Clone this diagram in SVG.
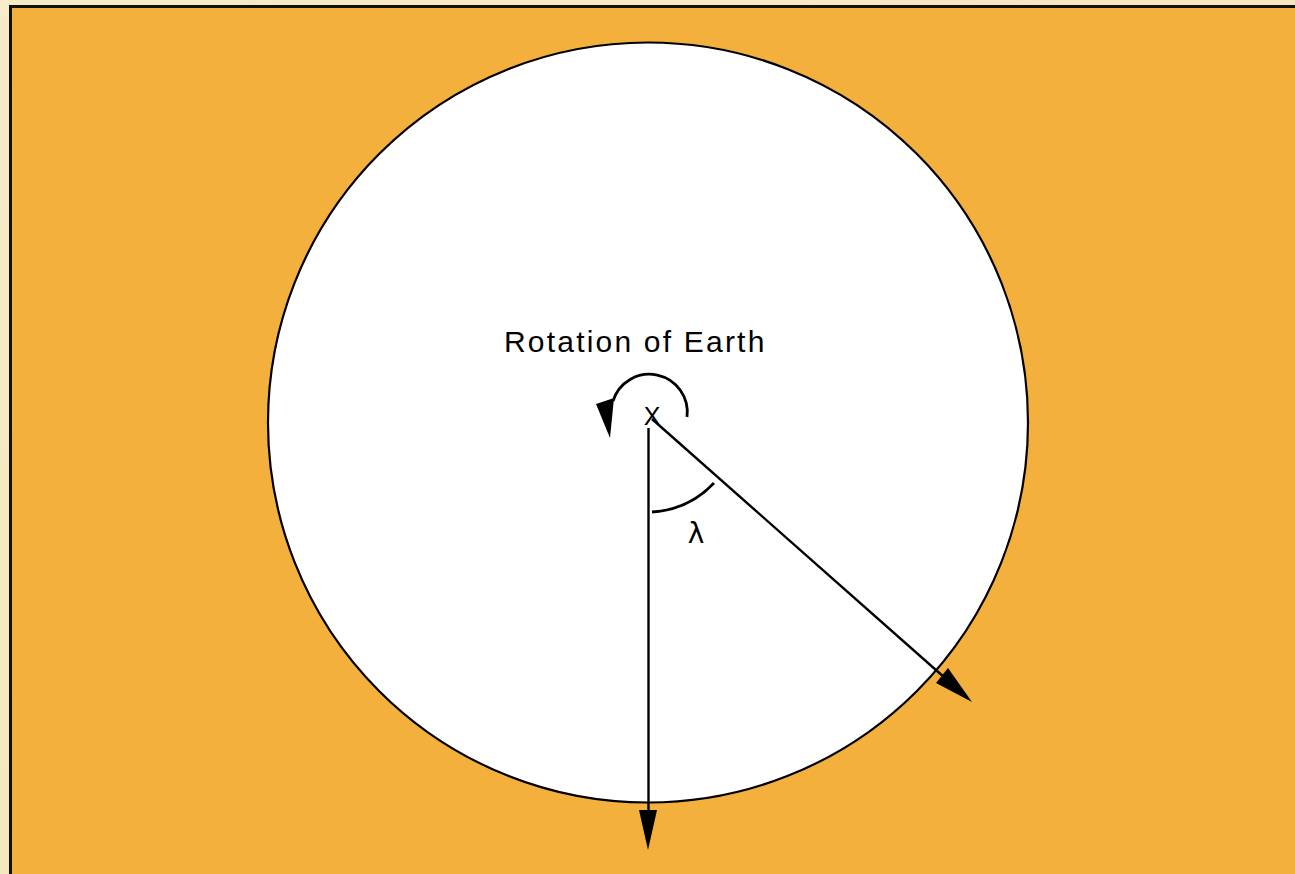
<svg xmlns="http://www.w3.org/2000/svg" width="1295" height="874" viewBox="0 0 1295 874">
  <style>
    .ln { fill: none; stroke: #000; stroke-width: 2.4; }
    .arc { fill: none; stroke: #000; stroke-width: 2.8; }
    .head { fill: #000; stroke: none; }
    .txt { font-family: "Liberation Sans", "DejaVu Sans", sans-serif; fill: #000; }
    .sym { font-family: "DejaVu Sans", sans-serif; fill: #000; }
  </style>
  <defs>
    <linearGradient id="cream" x1="0" y1="0" x2="1" y2="1">
      <stop offset="0" stop-color="#F7EBC8"/>
      <stop offset="1" stop-color="#F3E2B2"/>
    </linearGradient>
  </defs>
  <rect x="0" y="0" width="1295" height="874" fill="url(#cream)"/>
  <rect x="10.5" y="6.5" width="1300" height="880" fill="#F4B03C" stroke="#111111" stroke-width="3"/>
  <g id="earth">
    <circle cx="648" cy="422.5" r="380" fill="#FFFFFF" stroke="#000" stroke-width="2.2"/>
  </g>
  <g id="label-rotation">
    <text class="txt" x="504" y="352" font-size="30" letter-spacing="2.2">Rotation of Earth</text>
  </g>
  <g id="axis-mark">
    <text class="txt" x="652" y="425" font-size="25" text-anchor="middle">X</text>
  </g>
  <g id="label-lambda">
    <text class="sym" x="696" y="543" font-size="28" text-anchor="middle">λ</text>
  </g>
  <g id="connectors">
    <line class="ln" x1="648.5" y1="428" x2="648.5" y2="812"/>
    <polygon class="head" points="639,810 657,810 648,850"/>
    <line class="ln" x1="652" y1="419" x2="945" y2="678"/>
    <polygon class="head" points="936,683 948,668 972,702"/>
    <path class="arc" d="M652,512 A93,93 0 0 0 714,483"/>
    <path class="arc" d="M687,417 A38,38 0 0 0 613,401"/>
    <polygon class="head" points="596,404 614,398 610,438"/>
  </g>
</svg>
